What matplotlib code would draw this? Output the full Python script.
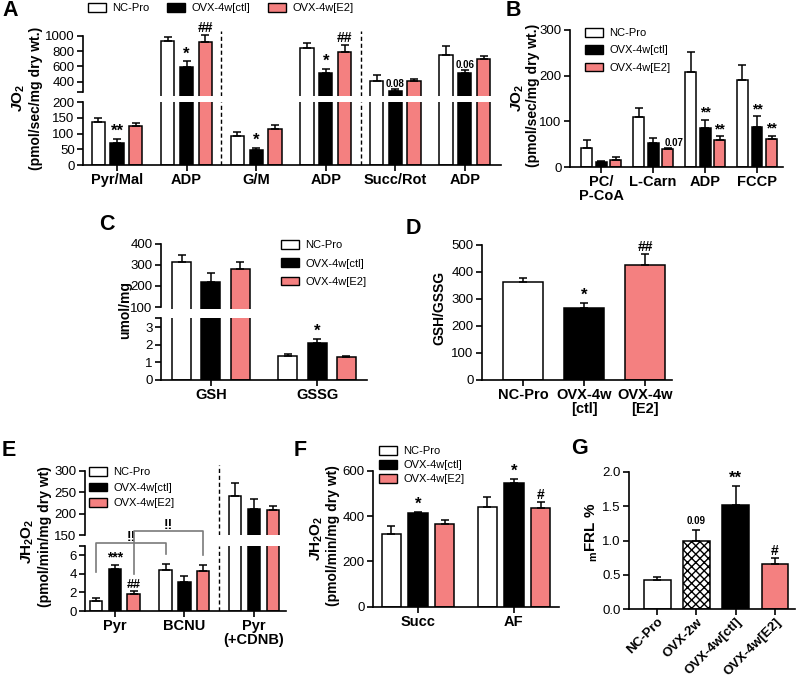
import numpy as np
import matplotlib
matplotlib.use('Agg')
import matplotlib.pyplot as plt
from matplotlib.patches import Patch

plt.rcParams['font.family'] = ['Liberation Sans', 'DejaVu Sans']
plt.rcParams['mathtext.fontset'] = 'custom'
plt.rcParams['mathtext.rm'] = 'Liberation Sans:bold'
plt.rcParams['mathtext.bf'] = 'Liberation Sans:bold'
plt.rcParams['mathtext.it'] = 'Liberation Sans:italic:bold'
plt.rcParams['hatch.linewidth'] = 1.0

# ---- data ----
groups = ['NC-Pro', 'OVX-4w[ctl]', 'OVX-4w[E2]']
RED = '#F48080'
colors = ['white', 'black', RED]

# A : JO2 (pmol/sec/mg dry wt.)
a_cats = ['Pyr/Mal', 'ADP', 'G/M', 'ADP', 'Succ/Rot', 'ADP']
a_nc = [136, 934, 91, 842, 413, 750]
a_nc_err = [15, 53, 14, 62, 75, 123]
a_ctl = [69, 588, 48, 518, 277, 509]
a_ctl_err = [15, 79, 7, 48, 30, 44]
a_e2 = [124, 921, 115, 794, 409, 693]
a_e2_err = [9, 97, 14, 83, 26, 48]

# B : JO2 fatty acid
b_cats = ['PC/\nP-CoA', 'L-Carn', 'ADP', 'FCCP']
b_nc = [42, 110, 209, 190]
b_nc_err = [17, 20, 43, 34]
b_ctl = [10, 53, 85, 87]
b_ctl_err = [3, 10, 19, 24]
b_e2 = [16, 40, 59, 62]
b_e2_err = [6, 2, 8, 6]

# C : umol/mg
c_cats = ['GSH', 'GSSG']
c_nc = [313, 1.38]
c_nc_err = [35, 0.1]
c_ctl = [219, 2.1]
c_ctl_err = [41, 0.22]
c_e2 = [282, 1.3]
c_e2_err = [32, 0.08]

# D : GSH/GSSG
d_cats = ['NC-Pro', 'OVX-4w\n[ctl]', 'OVX-4w\n[E2]']
d_vals = [364, 268, 426]
d_errs = [15, 18, 42]

# E : JH2O2 (pmol/min/mg dry wt)
e_cats = ['Pyr', 'BCNU', 'Pyr\n(+CDNB)']
e_nc = [1.12, 4.4, 241]
e_nc_err = [0.3, 0.67, 30]
e_ctl = [4.48, 3.1, 210]
e_ctl_err = [0.52, 0.67, 25]
e_e2 = [1.87, 4.33, 209]
e_e2_err = [0.3, 0.63, 9]

# F : JH2O2
f_cats = ['Succ', 'AF']
f_nc = [320, 438]
f_nc_err = [37, 44]
f_ctl = [412, 544]
f_ctl_err = [6, 19]
f_e2 = [363, 434]
f_e2_err = [19, 29]

# G : mFRL %
g_cats = ['NC-Pro', 'OVX-2w', 'OVX-4w[ctl]', 'OVX-4w[E2]']
g_vals = [0.43, 0.99, 1.52, 0.65]
g_errs = [0.04, 0.17, 0.28, 0.1]

# ---- helpers ----
W, H = 800, 678
fig = plt.figure(figsize=(8, 6.78), dpi=100)


def px_ax(l, t, r, b):
    return fig.add_axes([l / W, 1 - b / H, (r - l) / W, (b - t) / H])


def ftext(x, y, s, **kw):
    fig.text(x / W, 1 - y / H, s, **kw)


def style(ax, xaxis=True):
    ax.spines['right'].set_visible(False)
    ax.spines['top'].set_visible(False)
    for sp in ax.spines.values():
        sp.set_linewidth(1.2)
    ax.tick_params(direction='out', length=4, width=1.2, labelsize=9.5, pad=2)
    if not xaxis:
        ax.spines['bottom'].set_visible(False)
        ax.tick_params(axis='x', bottom=False, labelbottom=False)
    ax.patch.set_alpha(0)


def bars(ax, x, vals, errs, color, width, hatch=None):
    ax.bar(x, vals, width, color=color, edgecolor='black', linewidth=1.1,
           hatch=hatch, zorder=2)
    ax.errorbar(x, vals, yerr=[np.zeros(len(vals)), errs], fmt='none',
                ecolor='black', elinewidth=1.1, capsize=3, capthick=1.1, zorder=3)


def grouped(axes, series, width, off):
    for k, (vals, errs) in enumerate(series):
        x = np.arange(len(vals)) + (k - 1) * off
        for ax in axes:
            bars(ax, x, vals, errs, colors[k], width)


def mark(ax, x, y, s, size=12):
    ax.text(x, y, s, ha='center', va='bottom', fontsize=size,
            fontweight='bold', clip_on=False)


def legend(x, y, spacing=0.6, ncol=1, colsp=2.0):
    handles = [Patch(facecolor=c, edgecolor='black', linewidth=1) for c in colors]
    fig.legend(handles, groups, loc='upper left', bbox_to_anchor=(x / W, 1 - y / H),
               frameon=False, ncol=ncol, fontsize=8, borderpad=0, borderaxespad=0,
               handlelength=1.6, handleheight=0.8, handletextpad=0.6,
               labelspacing=spacing, columnspacing=colsp)


# ================= A =================
a_up = px_ax(83, 31.4, 501, 95.8)
a_lo = px_ax(83, 102.3, 501, 165)
w, off = 0.19, 0.27
grouped([a_up, a_lo], [(a_nc, a_nc_err), (a_ctl, a_ctl_err), (a_e2, a_e2_err)], w, off)
style(a_up, xaxis=False)
style(a_lo)
a_up.set_ylim(215, 1060)
a_up.spines['left'].set_bounds(270, 1000)
a_up.set_yticks([270, 400, 600, 800, 1000], ['', '400', '600', '800', '1000'])
a_lo.set_ylim(0, 200)
a_lo.set_yticks([0, 50, 100, 150, 200])
for ax in (a_up, a_lo):
    ax.set_xlim(-0.49, 5.52)
    for xd in (1.5, 3.5):
        ax.axvline(xd, color='black', lw=1, ls=(0, (3, 2)))
a_lo.set_xticks(np.arange(len(a_cats)), a_cats, fontweight='bold', fontsize=10.5)
mark(a_lo, 0, a_ctl[0] + a_ctl_err[0], '**')
mark(a_lo, 2, a_ctl[2] + a_ctl_err[2], '*')
mark(a_up, 1, a_ctl[1] + a_ctl_err[1], '*')
mark(a_up, 1 + off, a_e2[1] + a_e2_err[1], '##', size=10)
mark(a_up, 3, a_ctl[3] + a_ctl_err[3], '*')
mark(a_up, 3 + off, a_e2[3] + a_e2_err[3], '##', size=10)
mark(a_up, 4, a_ctl[4] + a_ctl_err[4], '0.08', size=7)
mark(a_up, 5, a_ctl[5] + a_ctl_err[5], '0.06', size=7)
ftext(19, 98, r'$J\mathrm{O}_\mathrm{2}$', rotation=90, ha='center', va='center', fontsize=11)
ftext(36, 98, '(pmol/sec/mg dry wt.)', rotation=90, ha='center', va='center',
      fontsize=10, fontweight='bold')
legend(88, 3, ncol=3, colsp=1.6)

# ================= B =================
b_ax = px_ax(570, 30, 783, 167)
grouped([b_ax], [(b_nc, b_nc_err), (b_ctl, b_ctl_err), (b_e2, b_e2_err)], 0.21, 0.28)
style(b_ax)
b_ax.set_ylim(0, 300)
b_ax.set_yticks([0, 100, 200, 300])
b_ax.set_xlim(-0.6, 3.5)
b_ax.set_xticks(np.arange(len(b_cats)), b_cats, fontweight='bold', fontsize=10.5,
                linespacing=1.0)
for i in (2, 3):
    mark(b_ax, i, b_ctl[i] + b_ctl_err[i], '**', size=10)
    mark(b_ax, i + 0.28, b_e2[i] + b_e2_err[i], '**', size=10)
mark(b_ax, 1 + 0.28 + 0.12, b_e2[1] + b_e2_err[1], '0.07', size=7)
ftext(518, 98, r'$J\mathrm{O}_\mathrm{2}$', rotation=90, ha='center', va='center', fontsize=11)
ftext(533, 95, '(pmol/sec/mg dry wt.)', rotation=90, ha='center', va='center',
      fontsize=10, fontweight='bold')
legend(585, 28, spacing=0.65)

# ================= C =================
c_up = px_ax(161, 240, 367, 309)
c_lo = px_ax(161, 318.2, 367, 380)
grouped([c_up, c_lo], [(c_nc, c_nc_err), (c_ctl, c_ctl_err), (c_e2, c_e2_err)], 0.18, 0.275)
style(c_up, xaxis=False)
style(c_lo)
c_up.set_ylim(90.5, 419)
c_up.spines['left'].set_bounds(100, 400)
c_up.set_yticks([100, 200, 300, 400])
c_lo.set_ylim(0, 3.5)
c_lo.set_yticks([0, 1, 2, 3, 3.5], ['0', '1', '2', '3', ''])
for ax in (c_up, c_lo):
    ax.set_xlim(-0.47, 1.47)
c_lo.set_xticks(np.arange(len(c_cats)), c_cats, fontweight='bold', fontsize=10.5)
mark(c_lo, 1, c_ctl[1] + c_ctl_err[1], '*')
ftext(125, 310, 'umol/mg', rotation=90, ha='center', va='center', fontsize=10,
      fontweight='bold')
legend(281, 240, spacing=0.75)

# ================= D =================
d_ax = px_ax(482, 240, 672, 380)
for i in range(3):
    bars(d_ax, [i], [d_vals[i]], [d_errs[i]], colors[i], 0.66)
style(d_ax)
d_ax.set_ylim(0, 518)
d_ax.spines['left'].set_bounds(0, 500)
d_ax.set_yticks([0, 100, 200, 300, 400, 500])
d_ax.set_xlim(-0.67, 2.44)
d_ax.set_xticks(np.arange(3), d_cats, fontweight='bold', fontsize=10.5, linespacing=1.0)
mark(d_ax, 1, d_vals[1] + d_errs[1], '*')
mark(d_ax, 2, d_vals[2] + d_errs[2], '##', size=10)
ftext(439, 308, 'GSH/GSSG', rotation=90, ha='center', va='center', fontsize=10,
      fontweight='bold')

# ================= E =================
e_up = px_ax(85, 465, 286, 535)
e_lo = px_ax(85, 546, 286, 611)
grouped([e_up, e_lo], [(e_nc, e_nc_err), (e_ctl, e_ctl_err), (e_e2, e_e2_err)], 0.18, 0.27)
style(e_up, xaxis=False)
style(e_lo)
e_up.set_ylim(150, 314)
e_up.spines['left'].set_bounds(150, 300)
e_up.set_yticks([150, 200, 250, 300])
e_lo.set_ylim(0, 7)
e_lo.set_yticks([0, 2, 4, 6, 7], ['0', '2', '4', '6', ''])
for ax in (e_up, e_lo):
    ax.set_xlim(-0.43, 2.46)
    ax.axvline(1.5, color='black', lw=1, ls=(0, (3, 2)))
e_lo.set_xticks(np.arange(3), e_cats, fontweight='bold', fontsize=10.5, linespacing=1.0)
mark(e_lo, 0, e_ctl[0] + e_ctl_err[0], '***', size=10)
mark(e_lo, 0.27, e_e2[0] + e_e2_err[0], '##', size=9)
# comparison brackets (Pyr vs BCNU)
gray = '#7a7a7a'
for xs, top, y0, y1 in [((-0.27, 0.73), 7.35, 4.2, 6.1), ((0.27, 1.27), 8.6, 4.0, 6.05)]:
    e_lo.plot([xs[0], xs[0], xs[1], xs[1]], [y0, top, top, y1], color=gray, lw=1.2,
              clip_on=False, zorder=4)
    e_lo.text(np.mean(xs), top - 0.1, '!!', ha='center', va='bottom', fontsize=10,
              fontweight='bold', clip_on=False)
ftext(28, 541, r'$J\mathrm{H}_\mathrm{2}\mathrm{O}_\mathrm{2}$', rotation=90, ha='center',
      va='center', fontsize=11)
ftext(45, 537, '(pmol/min/mg dry wt)', rotation=90, ha='center', va='center',
      fontsize=10, fontweight='bold')
legend(89, 467, spacing=0.5)

# ================= F =================
f_ax = px_ax(373, 470.7, 559, 606.7)
grouped([f_ax], [(f_nc, f_nc_err), (f_ctl, f_ctl_err), (f_e2, f_e2_err)], 0.2, 0.28)
style(f_ax)
f_ax.set_ylim(0, 600)
f_ax.set_yticks([0, 200, 400, 600])
f_ax.set_xlim(-0.47, 1.47)
f_ax.set_xticks(np.arange(2), f_cats, fontweight='bold', fontsize=10.5)
mark(f_ax, 0, f_ctl[0] + f_ctl_err[0], '*')
mark(f_ax, 1, f_ctl[1] + f_ctl_err[1], '*')
mark(f_ax, 1.28, f_e2[1] + f_e2_err[1], '#', size=10)
ftext(317, 538, r'$J\mathrm{H}_\mathrm{2}\mathrm{O}_\mathrm{2}$', rotation=90, ha='center',
      va='center', fontsize=11)
ftext(333, 536, '(pmol/min/mg dry wt)', rotation=90, ha='center', va='center',
      fontsize=10, fontweight='bold')
legend(379, 446, spacing=0.35)

# ================= G =================
g_ax = px_ax(629, 472, 795, 609)
g_cols = ['white', 'white', 'black', RED]
g_hatch = [None, 'xxxx', None, None]
for i in range(4):
    bars(g_ax, [i], [g_vals[i]], [g_errs[i]], g_cols[i], 0.68, hatch=g_hatch[i])
style(g_ax)
g_ax.set_ylim(0, 2.0)
g_ax.set_yticks([0, 0.5, 1.0, 1.5, 2.0], ['0.0', '0.5', '1.0', '1.5', '2.0'])
g_ax.set_xlim(-0.72, 3.51)
g_ax.set_xticks(np.arange(4), g_cats, fontweight='bold', fontsize=9.5, rotation=45,
                ha='right', rotation_mode='anchor')
g_ax.tick_params(axis='x', pad=1)
mark(g_ax, 1, g_vals[1] + g_errs[1] + 0.05, '0.09', size=7)
mark(g_ax, 2, g_vals[2] + g_errs[2], '**')
mark(g_ax, 3, g_vals[3] + g_errs[3], '#', size=10)
ftext(592, 532, r'$_\mathrm{m}\mathrm{FRL\ \%}$', rotation=90, ha='center', va='center',
      fontsize=11)

# ---- panel letters ----
for lab, x, y in [('A', 2, 11), ('B', 506, 11), ('C', 99, 224), ('D', 406, 228),
                  ('E', 2, 451), ('F', 294, 451), ('G', 571, 449)]:
    ftext(x, y, lab, fontsize=15.5, fontweight='bold', ha='left', va='center')

fig.savefig('out.png', dpi=100)
